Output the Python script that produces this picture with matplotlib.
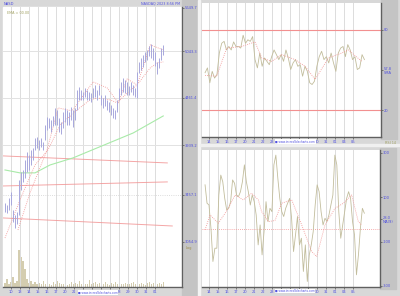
import numpy as np
import matplotlib
matplotlib.use("Agg")
import matplotlib.pyplot as plt
from matplotlib.patches import Rectangle

# ---- data ----
day_labels = ['10', '13', '14', '15', '16', '17', '20', '21', '', '', '', '', '28', '29', '30', '31', '01']
rday_labels = ['14', '15', '16', '17', '20', '21', '22', '23', '', '', '', '', '30', '31', '01', '04', '05']

price_hi = [3385, 3367, 3429, 3484, 3323, 3280, 3306, 3596, 3672, 3691,
            3790, 3870, 3840, 3890, 3911, 4015, 4026, 3994, 4015, 3973,
            4154, 4243, 4232, 4209, 4254, 4345, 4322, 4232, 4187, 4299,
            4345, 4322, 4299, 4356, 4322, 4345, 4555, 4591, 4555, 4531,
            4579, 4555, 4531, 4519, 4579, 4615, 4555, 4615, 4496, 4460,
            4496, 4437, 4414, 4380, 4345, 4322, 4437, 4579, 4652, 4701,
            4676, 4652, 4603, 4652, 4615, 4579, 4776, 4903, 4954, 4994,
            5034, 5060, 5114, 5140, 5087, 5034, 4903, 4954, 5087, 5127]
price_lo = [3306, 3297, 3323, 3367, 3220, 3170, 3203, 3280, 3502, 3577,
            3615, 3672, 3691, 3740, 3790, 3890, 3911, 3890, 3921, 3890,
            3994, 4100, 4122, 4079, 4144, 4154, 4154, 4079, 4058, 4122,
            4187, 4154, 4154, 4209, 4133, 4209, 4322, 4437, 4437, 4437,
            4472, 4437, 4437, 4414, 4460, 4472, 4437, 4496, 4380, 4345,
            4368, 4322, 4299, 4265, 4232, 4220, 4299, 4437, 4496, 4531,
            4519, 4496, 4496, 4531, 4496, 4472, 4460, 4764, 4801, 4839,
            4903, 4928, 4981, 4954, 4928, 4852, 4751, 4826, 4928, 4994]
volume = [40, 80, 30, 50, 100, 40, 60, 370, 300, 260,
          180, 80, 40, 60, 30, 50, 30, 40, 30, 60,
          30, 40, 30, 20, 50, 30, 60, 40, 30, 30,
          40, 20, 30, 50, 30, 40, 30, 60, 30, 40,
          30, 30, 70, 30, 40, 50, 30, 40, 30, 30,
          50, 30, 20, 40, 30, 50, 30, 40, 30, 30,
          40, 30, 30, 40, 50, 30, 30, 30, 40, 30,
          20, 40, 50, 30, 40, 60, 30, 40, 30, 50]

ma_long_x = [-0.63, 1.03, 2.7, 4.37, 6.92, 9.03, 13.59, 16.92]
ma_long = [3691, 3663, 3663, 3740, 3810, 3890, 4068, 4254]

ma_short_x = [-0.63, 1.03, 2.7, 4.14, 5.48, 7.37, 8.81, 9.59, 11.03, 11.81, 12.92, 14.03, 14.7, 15.48, 16.26, 16.92]
ma_short = [3087, 3411, 3740, 3890, 4154, 4322, 4437, 4460, 4437, 4403, 4519, 4615, 4714, 4826, 4890, 4903]

env_x = [0.81, 2.14, 4.03, 5.26, 6.81, 7.7, 9.14, 10.7, 11.92, 12.92, 14.03, 15.48, 16.92]
env = [3153, 3475, 3890, 4345, 4311, 4437, 4652, 4579, 4403, 4689, 4615, 5127, 5060]

trend_x = [[-0.86, 17.37], [-0.86, 17.37], [-0.86, 17.92]]
trend_y = [[3830, 3760], [3539, 3577], [3254, 3186]]

price_ticks = [5649.7, 5043.3, 4461.4, 3939.2, 3457.1, 3054.9]

rsi = [48, 51.6, 40.5, 49, 44, 46.7, 62.7, 70, 71.4, 65, 67.6, 65, 71, 67.6,
       67.6, 66.4, 76, 70, 72.6, 71.4, 75, 57.8, 51.6, 62.7, 52.8, 59, 56.5, 54,
       60, 65, 61.5, 57.8, 61.5, 56.5, 65, 59, 50.4, 55.3, 57.8, 52.8, 54, 45.4,
       52.8, 49, 40.5, 39.2, 41.7, 52.8, 60, 64, 57.8, 60, 55.3, 62.7, 55.3, 49,
       62.7, 66.4, 67.6, 60, 69, 65, 57.8, 60, 50.4, 51.6, 61.5, 57.8]
rsi_ma_x = [-0.44, 0.85, 1.96, 3.63, 5.11, 5.85, 6.96, 8.07, 9.56, 10.67, 11.78, 13.26, 14.74, 15.48, 16.96]
rsi_ma = [46, 45.4, 66.4, 67.6, 71, 59, 56.5, 61.5, 57.8, 52.8, 43, 59, 62.7, 65, 56.5]

cci = [156, 73, 65, -40, -190, -130, -130, 110, 200, 170,
       95, 43, 50, 80, 178, 163, 110, 103, 125, 170,
       246, 170, 125, 65, 110, 80, 20, -115, -25, -160,
       -55, 80, -10, 50, 35, 246, 290, 186, 95, 35,
       13, 50, 73, 95, 5, -145, -70, 13, -115, -85,
       -235, -115, -280, -160, -115, -55, 65, 156, 125, 35,
       -25, 5, -10, 20, 65, 110, 290, 246, 35, -85,
       -25, 35, 95, 125, 95, -10, -70, -250, -160, -40,
       50, 28]
cci_ma_x = [-0.44, 0.11, 1.04, 2.15, 2.89, 3.81, 4.74, 5.48, 5.85, 6.59, 7.33,
            8.07, 9.19, 10.3, 11.41, 11.96, 12.89, 14.0, 14.93, 15.85, 16.59, 16.96]
cci_ma = [-47, 20, -17, 50, 110, 88, 118, 88, 35, -10, -5,
          73, 88, -25, -145, -168, -25, 50, 73, 110, -10, -25]

BLUE = '#5050e0'
OLIVE = '#c2bd9c'
RED = '#f29090'
GRID = '#dcdcdc'

fig = plt.figure(figsize=(4, 2.96), dpi=100)
fig.patch.set_facecolor('#d8d8d8')

def strip(x0, y0, y1):
    # grey label strip right of a plot (pixel coords, top-left origin)
    fig.patches.append(Rectangle((x0 / 400, 1 - y1 / 296), 16 / 400, (y1 - y0) / 296,
                                 transform=fig.transFigure, color='#c4c4c4', zorder=-5))

strip(182, 0, 296)
strip(381, 0, 139)
strip(380, 148, 289)
fig.patches.append(Rectangle((198 / 400, 0), 2 / 400, 1, transform=fig.transFigure,
                             color='#f4f4f4', zorder=-4))
fig.patches.append(Rectangle((200 / 400, 1 - 146 / 296), 200 / 400, 2 / 296,
                             transform=fig.transFigure, color='#f0f0f0', zorder=-4))

ax = fig.add_axes([0.0075, 0.0304, 0.4475, 0.946])
volax = ax.twinx()
ax1 = fig.add_axes([0.505, 0.537, 0.4475, 0.4527])
ax2 = fig.add_axes([0.505, 0.0304, 0.445, 0.4628])

for a, labels in [(ax, day_labels), (ax1, rday_labels), (ax2, rday_labels)]:
    a.set_facecolor('white')
    for i in range(len(labels)):
        a.axvline(i, color=GRID, lw=0.7, zorder=0)
    a.set_xticks(range(len(labels)))
    a.set_xticklabels(labels)
    a.yaxis.tick_right()
    a.tick_params(axis='both', labelsize=2.6, colors='#303030', length=1.2, width=0.4, pad=1,
                  labelcolor=BLUE)
    for s in ['top', 'left']:
        a.spines[s].set_visible(False)
    for s in ['right', 'bottom']:
        a.spines[s].set_color('#606060')
        a.spines[s].set_linewidth(1.0)

# ---- price panel ----
n = len(price_hi)
bx = np.linspace(-0.63, 16.92, n)
ax.set_yscale('log')
ax.set_ylim(2714, 5664)
ax.set_xlim(-0.85, 19.0)
ax.set_yticks(price_ticks)
ax.set_yticklabels([f'{v:.1f}' for v in price_ticks])
ax.yaxis.set_minor_locator(matplotlib.ticker.NullLocator())
ax.yaxis.set_minor_formatter(matplotlib.ticker.NullFormatter())
for v in price_ticks[1:4]:
    ax.axhline(v, color='#e2e2e2', lw=0.7, zorder=0)
ax.axhline(price_ticks[4], color='#d0d0d0', lw=0.6, ls=':', zorder=0)

volax.set_ylim(0, 2800)
volax.bar(bx, volume, width=0.12, color='#d4cdb0', zorder=1)
volax.axis('off')
volax.set_zorder(0)
ax.set_zorder(1)
ax.patch.set_visible(False)
fig.patches.append(Rectangle((3 / 400, 9 / 296), 179 / 400, 280 / 296, transform=fig.transFigure,
                             color='white', zorder=-3))

for tx, ty in zip(trend_x, trend_y):
    ax.plot(tx, ty, color=RED, lw=0.7, alpha=0.8, zorder=2)
ax.plot(ma_long_x, ma_long, color='#a8eaa8', lw=0.8, zorder=2)
ax.plot(ma_short_x, ma_short, color=RED, lw=0.6, ls=(0, (1, 1.5)), zorder=3)
ax.plot(env_x, env, color=RED, lw=0.6, ls=(0, (1, 1.5)), zorder=3)
ax.vlines(bx, price_lo, price_hi, color='#a8a8dc', lw=0.7, zorder=4)

ax.yaxis.tick_right()
ax.tick_params(axis='y', labelsize=2.6, colors='#303030', length=1.2, width=0.4, pad=1,
               labelcolor=BLUE, right=True, left=False, labelright=True, labelleft=False)

ax.text(0.005, 1.005, 'NASD', transform=ax.transAxes, fontsize=2.6, color=BLUE, va='bottom')
ax.text(0.02, 0.985, 'EMA = 00.00', transform=ax.transAxes, fontsize=2.4, color='#a0a060', va='top')
ax.text(0.99, 1.005, 'NASDAQ 2023 8:56 PM', transform=ax.transAxes, fontsize=2.4, color=BLUE,
        va='bottom', ha='right')
ax.text(1.02, 0.145, 'Log', transform=ax.transAxes, fontsize=2.6, color='#a09050', va='top')
ax.text(0.42, -0.012, '\u25a0 www.incrediblecharts.com', transform=ax.transAxes, fontsize=2.0,
        color=BLUE, va='top', ha='left',
        bbox=dict(facecolor='white', edgecolor='none', pad=0.3), zorder=10)

# ---- RSI panel ----
rx = np.linspace(-0.44, 17.26, len(rsi))
ax1.set_xlim(-0.78, 19.1)
ax1.set_ylim(0, 100)
ax1.axhline(80, color=RED, lw=0.8)
ax1.axhline(20, color=RED, lw=0.8)
ax1.plot(rx, rsi, color=OLIVE, lw=0.6)
ax1.plot(rsi_ma_x, rsi_ma, color=RED, lw=0.6, ls=(0, (1, 1.5)))
ax1.set_yticks([80, 50, 20])
ax1.set_yticklabels(['80', '57.8\nSMA', '20'])
ax1.text(1.02, -0.03, 'RSI 14', transform=ax1.transAxes, fontsize=2.4, color='#a0a060', va='top')
ax1.text(0.41, -0.02, '\u25a0 www.incrediblecharts.com', transform=ax1.transAxes, fontsize=2.0,
         color=BLUE, va='top', ha='left',
         bbox=dict(facecolor='white', edgecolor='none', pad=0.3), zorder=10)

# ---- CCI panel ----
cx = np.linspace(-0.44, 17.26, len(cci))
ax2.set_xlim(-0.78, 19.0)
ax2.set_ylim(-305, 313)
ax2.axhline(-43, color=RED, lw=0.6, ls=(0, (1, 1.5)))
ax2.plot(cx, cci, color=OLIVE, lw=0.6)
ax2.plot(cci_ma_x, cci_ma, color=RED, lw=0.6, ls=(0, (1, 1.5)))
ax2.set_yticks([300, 100, 0, -100, -300])
ax2.set_yticklabels(['300', '100', '28.0\nMA(9)', '-100', '-300'])
ax2.text(0.41, -0.015, '\u25a0 www.incrediblecharts.com', transform=ax2.transAxes, fontsize=2.0,
         color=BLUE, va='top', ha='left',
         bbox=dict(facecolor='white', edgecolor='none', pad=0.3), zorder=10)

fig.savefig('out.png', dpi=100, facecolor=fig.get_facecolor())
